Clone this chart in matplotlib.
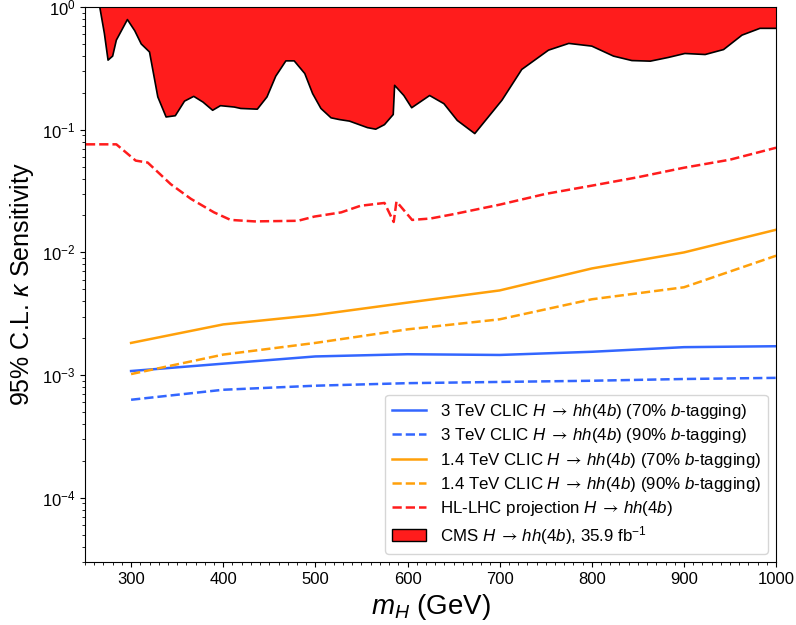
import matplotlib
matplotlib.use("Agg")
import matplotlib.pyplot as plt
from matplotlib.ticker import MultipleLocator
from matplotlib.patches import Patch
from matplotlib.lines import Line2D

plt.rcParams['font.family'] = ['Liberation Sans', 'DejaVu Sans']
plt.rcParams['mathtext.fontset'] = 'custom'
plt.rcParams['mathtext.rm'] = 'Liberation Sans'
plt.rcParams['mathtext.it'] = 'Liberation Sans:italic'
plt.rcParams['mathtext.bf'] = 'Liberation Sans:bold'
plt.rcParams['mathtext.sf'] = 'STIXGeneral'  # only used for the long arrow

# CLIC projections, evaluated at these masses
mass = [300, 400, 500, 600, 700, 800, 900, 1000]
clic3_70 = [1.08e-3, 1.24e-3, 1.42e-3, 1.48e-3, 1.46e-3, 1.55e-3, 1.69e-3, 1.72e-3]
clic3_90 = [6.3e-4, 7.6e-4, 8.2e-4, 8.6e-4, 8.8e-4, 9.0e-4, 9.3e-4, 9.5e-4]
clic14_70 = [1.83e-3, 2.59e-3, 3.09e-3, 3.9e-3, 4.9e-3, 7.4e-3, 1.0e-2, 1.53e-2]
clic14_90 = [1.02e-3, 1.47e-3, 1.83e-3, 2.36e-3, 2.85e-3, 4.15e-3, 5.2e-3, 9.4e-3]

# HL-LHC projection
hl_mass = [251, 284, 305, 318, 343, 365, 390, 408, 434, 481, 499, 528, 549,
           575, 585, 588, 605, 625, 650, 700, 750, 800, 850, 900, 950, 1000]
hl_lim = [0.076, 0.076, 0.056, 0.054, 0.036, 0.0273, 0.0212, 0.0184, 0.0179,
          0.0181, 0.0196, 0.0212, 0.024, 0.0253, 0.0177, 0.026, 0.0184, 0.0189,
          0.0205, 0.0245, 0.030, 0.035, 0.041, 0.049, 0.057, 0.0713]

# CMS 35.9 fb-1 observed
cms_mass = [260, 266, 271, 275, 280, 284, 296, 304, 311, 320, 329, 338, 348,
            358, 368, 378, 388.5, 397, 412, 419, 437, 447.5, 457, 468, 477,
            488.5, 497, 506, 517, 526, 537, 556.5, 565.5, 575, 584.5, 586,
            596, 604.5, 624, 639.5, 654, 673, 702.5, 724, 753, 775, 800,
            823.5, 843.5, 863.5, 883, 901, 923, 943, 963, 982.5, 1000]
cms_lim = [2.0, 1.0, 0.61, 0.369, 0.398, 0.537, 0.79, 0.64, 0.50, 0.43, 0.185,
           0.127, 0.130, 0.171, 0.187, 0.168, 0.144, 0.157, 0.153, 0.149,
           0.147, 0.185, 0.273, 0.364, 0.364, 0.287, 0.197, 0.149, 0.125,
           0.121, 0.1175, 0.104, 0.101, 0.110, 0.133, 0.23, 0.19, 0.151,
           0.19, 0.163, 0.119, 0.093, 0.174, 0.31, 0.445, 0.505, 0.48,
           0.398, 0.366, 0.362, 0.388, 0.418, 0.41, 0.45, 0.59, 0.67, 0.67]

blue = '#3366ff'
orange = '#ffa00a'
red = '#ff1c1c'

fig = plt.figure(figsize=(7.96, 6.25), dpi=100)
ax = fig.add_axes([0.1068, 0.1008, 0.8682, 0.888])

ax.fill_between(cms_mass, cms_lim, 10, facecolor=red, edgecolor='none')
ax.plot(cms_mass, cms_lim, color='k', lw=1.2)

ax.plot(mass, clic3_70, color=blue, lw=1.8, ls='-')
ax.plot(mass, clic3_90, color=blue, lw=1.8, ls='--')
ax.plot(mass, clic14_70, color=orange, lw=1.8, ls='-')
ax.plot(mass, clic14_90, color=orange, lw=1.8, ls='--')
ax.plot(hl_mass, hl_lim, color=red, lw=1.8, ls='--')

ax.set_yscale('log')
ax.set_xlim(250, 1000)
ax.set_ylim(3e-5, 1)
ax.xaxis.set_major_locator(MultipleLocator(100))
ax.xaxis.set_minor_locator(MultipleLocator(10))
ax.tick_params(labelsize=12)

ax.set_xlabel(r'$m_H$ (GeV)', fontsize=20)
ax.set_ylabel(r'95% C.L. $\kappa$ Sensitivity', fontsize=18)

arrow = r'H\;\mathsf{\rightarrow}\,hh(4b)'
handles = [
    Line2D([], [], color=blue, lw=1.8, ls='-'),
    Line2D([], [], color=blue, lw=1.8, ls='--'),
    Line2D([], [], color=orange, lw=1.8, ls='-'),
    Line2D([], [], color=orange, lw=1.8, ls='--'),
    Line2D([], [], color=red, lw=1.8, ls='--'),
    Patch(facecolor=red, edgecolor='k'),
]
labels = [
    r'3 TeV CLIC $' + arrow + r'$ (70% $b$-tagging)',
    r'3 TeV CLIC $' + arrow + r'$ (90% $b$-tagging)',
    r'1.4 TeV CLIC $' + arrow + r'$ (70% $b$-tagging)',
    r'1.4 TeV CLIC $' + arrow + r'$ (90% $b$-tagging)',
    r'HL-LHC projection $' + arrow + r'$',
    r'CMS $' + arrow + r'$, 35.9 fb$^{-1}$',
]
ax.legend(handles, labels, loc='lower right', fontsize=12.2, labelspacing=0.32)

fig.savefig('out.png', dpi=100)
